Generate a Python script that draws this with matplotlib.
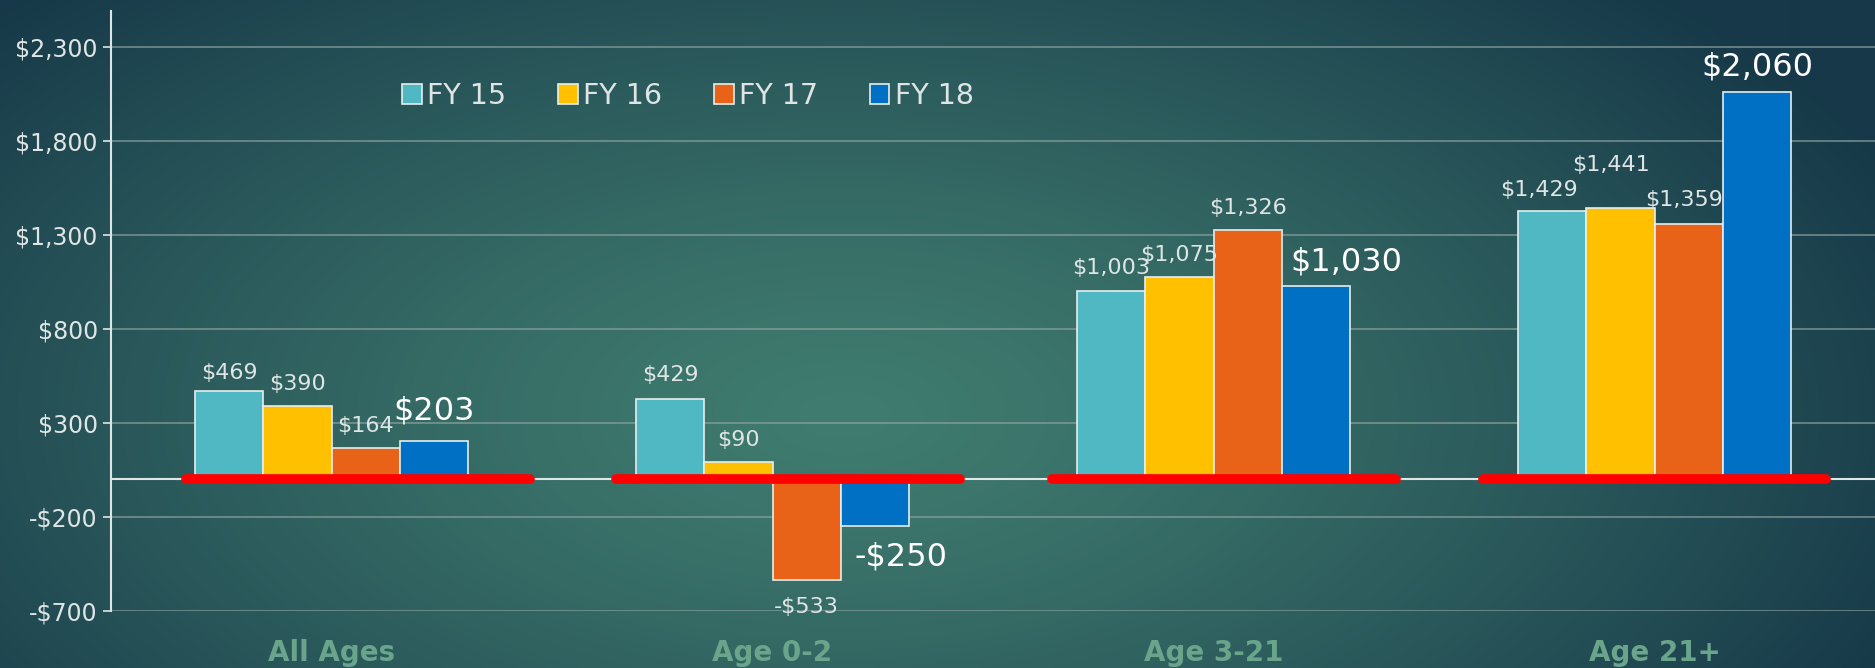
import numpy as np
import matplotlib
matplotlib.use("Agg")
import matplotlib.pyplot as plt
from matplotlib.patches import Patch

# data
categories = ["All Ages", "Age 0-2", "Age 3-21", "Age 21+"]
series = ["FY 15", "FY 16", "FY 17", "FY 18"]
fy15 = [469, 429, 1003, 1429]
fy16 = [390, 90, 1075, 1441]
fy17 = [164, -533, 1326, 1359]
fy18 = [203, -250, 1030, 2060]
yticks = [-700, -200, 300, 800, 1300, 1800, 2300]

colors = ["#4fb8c3", "#ffc000", "#e86218", "#0070c4"]
# label offsets in points (dx, dy), per series then per category
offsets = [
    [(0, 13), (0, 17), (0, 16), (-9, 15)],
    [(0, 16), (0, 16), (0, 16), (-7, 31)],
    [(0, 16), (0, -20), (0, 16), (-3, 17)],
    [(0, 22), (19, -22), (22, 17), (0, 18)],
]
big = {(3, 0), (3, 1), (3, 2), (3, 3)}
# red underline start (relative to category centre), not evenly spaced in the original
red_start = [-0.33, -0.355, -0.366, -0.39]
red_len = 0.78

plt.rcParams['font.family'] = ['DejaVu Sans']

fig = plt.figure(figsize=(18.75, 6.68), dpi=100)

# radial gradient background
bg = fig.add_axes([0, 0, 1, 1], zorder=-10)
h, w = 334, 938
yy, xx = np.mgrid[0:h, 0:w]
d = np.sqrt(((xx - w * 0.45) / (w * 0.62)) ** 2 + ((yy - h * 0.62) / (h * 0.9)) ** 2)
d = np.clip(d, 0, 1) ** 1.3
c_in = np.array([0x40, 0x7c, 0x6f]) / 255
c_out = np.array([0x16, 0x38, 0x48]) / 255
img = c_in[None, None, :] * (1 - d[..., None]) + c_out[None, None, :] * d[..., None]
bg.imshow(img, aspect="auto", extent=[0, 1, 0, 1])
bg.axis("off")

ax = fig.add_axes([111 / 1875, 57 / 668, 1 - 111 / 1875, 600 / 668])
ax.patch.set_alpha(0)

x = np.arange(len(categories))
bw = 0.155
data = [fy15, fy16, fy17, fy18]
for i, vals in enumerate(data):
    pos = x + (i - 1.5) * bw
    ax.bar(pos, vals, width=bw, color=colors[i], edgecolor="#e6eeee",
           linewidth=1.2, zorder=3)
    for j, v in enumerate(vals):
        dx, dy = offsets[i][j]
        lab = f"${abs(v):,}" if v >= 0 else f"-${abs(v):,}"
        isbig = (i, j) in big
        ax.annotate(lab, (pos[j], v), xytext=(dx, dy), textcoords="offset points",
                    ha="center", va="center",
                    fontsize=23 if isbig else 16,
                    color="white" if isbig else "#dfe5e5", zorder=5)

# zero line and red highlight under each group
ax.axhline(0, color="#dfe6e6", lw=1.5, zorder=2)
for xc, s in zip(x, red_start):
    ax.plot([xc + s, xc + s + red_len], [0, 0], color="#ff0000", lw=7,
            solid_capstyle="round", zorder=4)

ax.set_xlim(-0.5, 3.5)
ax.set_ylim(-700, 2490)
ax.set_yticks(yticks)
ax.set_yticklabels([f"${t:,}" if t >= 0 else f"-${abs(t):,}" for t in yticks])
ax.yaxis.grid(True, color="#8fa3a1", lw=1.1, alpha=0.8, zorder=0)
ax.set_axisbelow(True)
ax.tick_params(axis="y", colors="#dfe5e5", labelsize=17, length=6, width=1.2)
ax.tick_params(axis="x", length=0, pad=20)
ax.set_xticks(x)
ax.set_xticklabels(categories, fontsize=20, fontweight="bold", color="#6aa48b")
for s in ["top", "right", "bottom"]:
    ax.spines[s].set_visible(False)
ax.spines["left"].set_color("#dfe5e5")
ax.spines["left"].set_linewidth(1.5)

handles = [Patch(facecolor=c, edgecolor="#e6eeee", linewidth=1.2) for c in colors]
fig.legend(handles, series, loc="center", bbox_to_anchor=(688 / 1875, 1 - 96 / 668),
           ncol=4, frameon=False, fontsize=20.5, labelcolor="#dfe5e5",
           handlelength=0.7, handleheight=0.7, handletextpad=0.2,
           columnspacing=1.8)

fig.savefig("out.png", dpi=100)
